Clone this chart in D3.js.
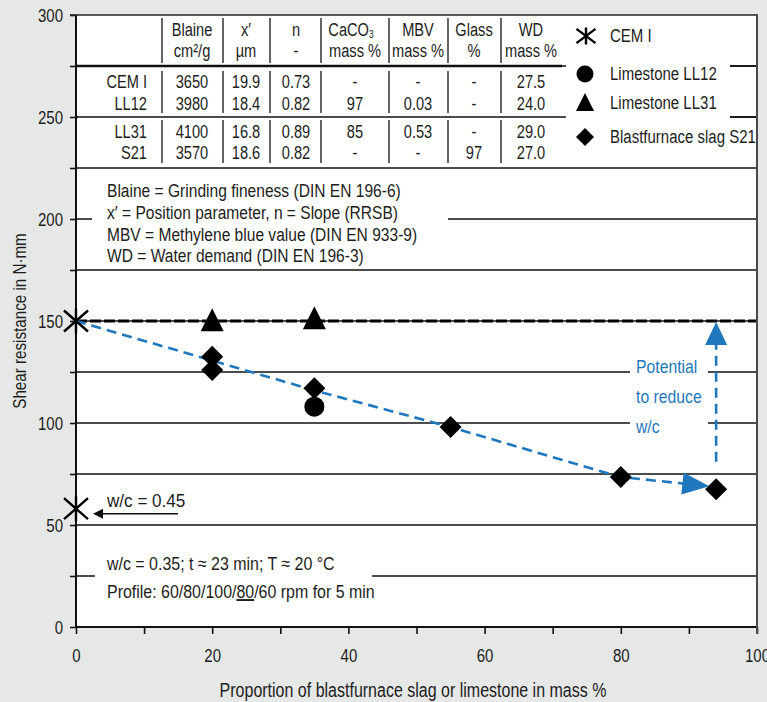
<!DOCTYPE html>
<html><head><meta charset="utf-8">
<script src="https://cdn.jsdelivr.net/npm/d3@7/dist/d3.min.js"></script>
<style>
html,body{margin:0;padding:0;background:#e6e7e7;}
svg text{font-family:"Liberation Sans",Arimo,Arial,sans-serif;fill:#1d1d1b;}
</style></head>
<body>
<svg id="chart" width="767" height="702"></svg>
<script>
// ---------------- data ----------------
const xTicks = [0,20,40,60,80,100];
const yTicks = [0,50,100,150,200,250,300];
const cemI = [{x:0,y:150},{x:0,y:58}];
const ll12 = [{x:35,y:108}];
const ll31 = [{x:20,y:150},{x:35,y:151}];
const s21 = [{x:20,y:132.5},{x:20,y:126},{x:35,y:117},{x:55,y:98},{x:80,y:73.5},{x:94,y:67.5}];
const trendX = [0,35,55,80,93];
const trendY = [150,116,98,73.5,69];
const potentialFrom = 81, potentialTo = 150;
const refLevel = 150;

const tableHeads1 = ["Blaine","x′","n","CaCO","MBV","Glass","WD"];
const tableHeads2 = ["cm²/g","µm","-","mass %","mass %","%","mass %"];
const tableRows = ["CEM I","LL12","LL31","S21"];
const colBlaine = ["3650","3980","4100","3570"];
const colX = ["19.9","18.4","16.8","18.6"];
const colN = ["0.73","0.82","0.89","0.82"];
const colCaCO3 = ["-","97","85","-"];
const colMBV = ["-","0.03","0.53","-"];
const colGlass = ["-","-","-","97"];
const colWD = ["27.5","24.0","29.0","27.0"];
const legendLabels = ["CEM I","Limestone LL12","Limestone LL31","Blastfurnace slag S21"];
const notes = ["Blaine = Grinding fineness (DIN EN 196-6)","x′ = Position parameter, n = Slope (RRSB)","MBV = Methylene blue value (DIN EN 933-9)","WD = Water demand (DIN EN 196-3)"];

// ---------------- drawing ----------------
const svg = d3.select("#chart");
const x = d3.scaleLinear().domain([0,100]).range([76,757]);
const y = d3.scaleLinear().domain([0,300]).range([627,15]);
const blue = "#1f78be";
const FS = 19;
function T(g,tx,ty,str,size,anchor,sx){
  return g.append("text").attr("transform",`translate(${tx},${ty}) scale(${sx||0.8},1)`)
    .attr("text-anchor",anchor||"start").attr("font-size",size||FS).text(str);
}

svg.append("rect").attr("x",x(0)).attr("y",y(300)).attr("width",x(100)-x(0)).attr("height",y(0)-y(300)).attr("fill","#fff");

// gridlines every 25
const grid = d3.range(25,300,25);
svg.append("g").selectAll("line").data(grid).join("line")
  .attr("x1",x(0)).attr("x2",x(100)).attr("y1",d=>y(d)).attr("y2",d=>y(d))
  .attr("stroke","#111").attr("stroke-width",1.6);

// white boxes behind texts
const boxes = [[78,17,484,148],[566,17,164,148],[92,172,356,95],[630,340,78,100],[95,545,277,62]];
svg.append("g").selectAll("rect").data(boxes).join("rect")
  .attr("x",d=>d[0]).attr("y",d=>d[1]).attr("width",d=>d[2]).attr("height",d=>d[3]).attr("fill","#fff");

// reference dashed line
svg.append("line").attr("x1",x(0)).attr("x2",x(100)).attr("y1",y(refLevel)).attr("y2",y(refLevel))
  .attr("stroke","#000").attr("stroke-width",3.2).attr("stroke-dasharray","11,3");

// table
const tbl = svg.append("g");
const tableRight = 562;
tbl.append("line").attr("x1",x(0)).attr("x2",tableRight).attr("y1",y(275)).attr("y2",y(275)).attr("stroke","#111").attr("stroke-width",2.6);
tbl.append("line").attr("x1",x(0)).attr("x2",tableRight).attr("y1",y(250)).attr("y2",y(250)).attr("stroke","#111").attr("stroke-width",1.6);
svg.append("line").attr("x1",730).attr("x2",x(100)).attr("y1",y(275)).attr("y2",y(275)).attr("stroke","#111").attr("stroke-width",1.6);
svg.append("line").attr("x1",730).attr("x2",x(100)).attr("y1",y(250)).attr("y2",y(250)).attr("stroke","#111").attr("stroke-width",1.6);
const seps = [162,223,270,321,389,448,501];
const segs = [[18,63],[71,113],[120,163]];
seps.forEach(sx=>segs.forEach(s=>tbl.append("line").attr("x1",sx).attr("x2",sx).attr("y1",s[0]).attr("y2",s[1]).attr("stroke","#111").attr("stroke-width",1.3)));
const colCenters = [192,246,296,355,418,474,531];
const TSX = 0.77;
tableHeads1.forEach((h,i)=>{
  const t = T(tbl,colCenters[i]-(h==="CaCO"?4:0),36,h,FS,"middle",TSX);
  if(h==="CaCO"){ t.append("tspan").attr("font-size",11).attr("dy",2).text("3"); }
});
tableHeads2.forEach((h,i)=>T(tbl,colCenters[i],57,h,FS,"middle",TSX));
const rowY = [88,110,138,159];
const cols = [colBlaine,colX,colN,colCaCO3,colMBV,colGlass,colWD];
tableRows.forEach((r,j)=>{
  T(tbl,147,rowY[j],r,FS,"end",TSX);
  cols.forEach((c,i)=>T(tbl,colCenters[i],rowY[j],c[j],FS,"middle",TSX));
});

// notes
notes.forEach((n,i)=>T(svg,107,[197,219,241,262][i],n,FS,"start",0.82));

// bottom notes
T(svg,107,570,"w/c = 0.35; t ≈ 23 min; T ≈ 20 °C",FS,"start",0.84);
const prof = T(svg,107,598,"",FS,"start",0.84);
prof.append("tspan").text("Profile: 60/80/100/");
prof.append("tspan").attr("text-decoration","underline").text("80");
prof.append("tspan").text("/60 rpm for 5 min");

// trend line
const pts = trendX.map((d,i)=>[x(d),y(trendY[i])]);
svg.append("path").attr("d",d3.line()(pts)).attr("fill","none").attr("stroke",blue).attr("stroke-width",2.6).attr("stroke-dasharray","10,6");
function arrowHead(tip, from, len, w, col){
  const dx=tip[0]-from[0], dy=tip[1]-from[1], L=Math.hypot(dx,dy), ux=dx/L, uy=dy/L;
  const bx=tip[0]-ux*len, by=tip[1]-uy*len;
  svg.append("path").attr("d",`M${tip[0]},${tip[1]}L${bx-uy*w/2},${by+ux*w/2}L${bx+uy*w/2},${by-ux*w/2}Z`).attr("fill",col);
}
arrowHead(pts[pts.length-1], pts[pts.length-2], 27, 22, blue);

// potential arrow
const px = x(s21[s21.length-1].x);
svg.append("line").attr("x1",px).attr("x2",px).attr("y1",y(potentialFrom)).attr("y2",y(potentialTo)+22)
  .attr("stroke",blue).attr("stroke-width",2.6).attr("stroke-dasharray","10,6");
arrowHead([px,y(potentialTo)+1],[px,y(potentialFrom)],23,22,blue);
["Potential","to reduce","w/c"].forEach((t,i)=>T(svg,636,373+i*30,t,19,"start",0.83).style("fill",blue));

// w/c = 0.45 annotation
T(svg,107,507,"w/c = 0.45",FS,"start",0.9);
svg.append("line").attr("x1",100).attr("x2",178).attr("y1",y(cemI[1].y)+5).attr("y2",y(cemI[1].y)+5).attr("stroke","#111").attr("stroke-width",1.4);
svg.append("path").attr("d",`M93,${y(cemI[1].y)+5}L103,${y(cemI[1].y)}L103,${y(cemI[1].y)+10}Z`).attr("fill","#111");

// axes
const ASX = 0.79;
const gy = svg.append("g").attr("transform",`translate(${x(0)},0)`)
  .call(d3.axisLeft(y).tickValues(d3.range(0,301,25)).tickFormat(d=>yTicks.includes(d)?d:"").tickSize(6).tickPadding(7));
const gx = svg.append("g").attr("transform",`translate(0,${y(0)})`)
  .call(d3.axisBottom(x).tickValues(d3.range(0,101,10)).tickFormat(d=>xTicks.includes(d)?d:"").tickSize(7).tickPadding(15));
[gx,gy].forEach(g=>{
  g.select(".domain").remove();
  g.selectAll(".tick line").attr("stroke","#111").attr("stroke-width",1.6);
  g.selectAll(".tick text").attr("font-size",FS).attr("font-family",null).style("fill","#1d1d1b").attr("transform",`scale(${ASX},1)`);
});
gy.selectAll(".tick text").attr("x",-13/ASX);
svg.append("line").attr("x1",x(0)).attr("x2",x(0)).attr("y1",y(300)).attr("y2",y(0)).attr("stroke","#111").attr("stroke-width",2);
svg.append("line").attr("x1",x(0)).attr("x2",x(100)).attr("y1",y(0)).attr("y2",y(0)).attr("stroke","#111").attr("stroke-width",2);
svg.append("line").attr("x1",x(0)-6).attr("x2",x(100)).attr("y1",y(300)).attr("y2",y(300)).attr("stroke","#222").attr("stroke-width",1.6);
svg.append("line").attr("x1",x(100)).attr("x2",x(100)).attr("y1",y(300)-1).attr("y2",y(0)+7).attr("stroke","#4a4a4a").attr("stroke-width",2);

// markers
function asterisk(g,cx,cy,w,h){
  g.append("path").attr("d",`M${cx},${cy-h/2}V${cy+h/2}M${cx-w/2},${cy-h*0.42}L${cx+w/2},${cy+h*0.42}M${cx-w/2},${cy+h*0.42}L${cx+w/2},${cy-h*0.42}`)
   .attr("stroke","#000").attr("stroke-width",2.4).attr("fill","none");
}
function marker(g,type,cx,cy,s){
  if(type==="circle") g.append("circle").attr("cx",cx).attr("cy",cy).attr("r",s/2).attr("fill","#000");
  if(type==="tri") g.append("path").attr("d",`M${cx},${cy-s*0.55}L${cx+s/2},${cy+s*0.45}L${cx-s/2},${cy+s*0.45}Z`).attr("fill","#000");
  if(type==="dia") g.append("path").attr("d",`M${cx},${cy-s/2}L${cx+s/2},${cy}L${cx},${cy+s/2}L${cx-s/2},${cy}Z`).attr("fill","#000");
}
const mk = svg.append("g");
cemI.forEach(d=>asterisk(mk,x(d.x),y(d.y),24,25));
ll12.forEach(d=>marker(mk,"circle",x(d.x),y(d.y),20));
ll31.forEach(d=>marker(mk,"tri",x(d.x),y(d.y),23));
s21.forEach(d=>marker(mk,"dia",x(d.x),y(d.y),22));

// legend
const lg = svg.append("g");
const lgY = [36,74,103,137];
asterisk(lg,586,lgY[0],19,17);
marker(lg,"circle",585,lgY[1],17);
marker(lg,"tri",585,lgY[2],18);
marker(lg,"dia",585,lgY[3],18);
legendLabels.forEach((l,i)=>T(lg,610,lgY[i]+6,l,FS,"start",0.79));

// axis titles
svg.append("text").attr("transform",`translate(26,321) rotate(-90) scale(0.8,1)`).attr("text-anchor","middle").attr("font-size",19).text("Shear resistance in N·mm");
T(svg,413,697,"Proportion of blastfurnace slag or limestone in mass %",20,"middle",0.8);
</script>
</body></html>
